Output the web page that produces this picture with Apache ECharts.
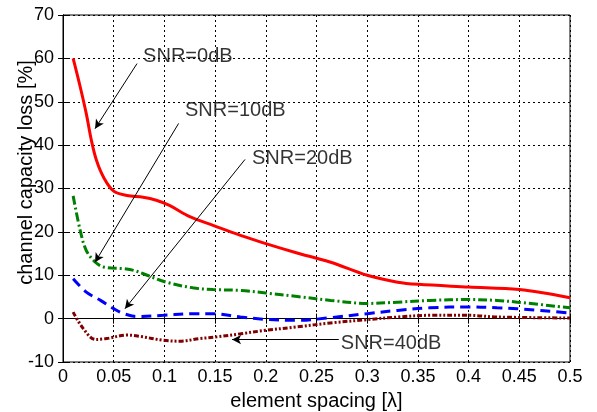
<!DOCTYPE html>
<html>
<head>
<meta charset="utf-8">
<script src="https://cdn.jsdelivr.net/npm/echarts@6/dist/echarts.min.js"></script>
<style>html,body{margin:0;padding:0;background:#fff}#c{width:597px;height:412px}</style>
</head>
<body>
<div id="c"></div>
<script>
// x positions (element spacing, λ) and loss values (%) per SNR curve
var snr0X  = [0.01,0.017,0.023,0.028,0.033,0.04,0.05,0.063,0.079,0.092,0.105,0.125,0.148,0.175,0.2,0.23,0.264,0.3,0.33,0.35,0.4,0.45,0.5];
var snr0Y  = [60,53.4,47.2,41.1,36.5,32.6,29.4,28.4,28.0,27.3,26.1,23.5,21.5,19.2,17.3,15.2,13,10,8.4,7.9,7.3,6.7,4.8];
var snr10X = [0.01,0.017,0.023,0.032,0.04,0.06,0.07,0.083,0.102,0.128,0.148,0.175,0.2,0.231,0.264,0.3,0.33,0.362,0.4,0.428,0.448,0.5];
var snr10Y = [28.3,20.3,15.7,13.0,11.9,11.5,11.1,10.0,8.4,7.1,6.7,6.5,5.9,5.1,4.2,3.5,3.8,4.2,4.4,4.2,3.8,2.5];
var snr20X = [0.01,0.023,0.037,0.05,0.06,0.073,0.099,0.128,0.148,0.175,0.2,0.231,0.264,0.3,0.33,0.362,0.4,0.428,0.448,0.5];
var snr20Y = [9.2,6.1,4.2,2.3,1.15,0.5,0.76,1.15,1.15,0.37,-0.16,-0.4,0.23,1.15,1.9,2.5,2.7,2.5,2.3,1.3];
var snr40X = [0.01,0.02,0.032,0.043,0.063,0.076,0.099,0.115,0.135,0.152,0.175,0.2,0.231,0.264,0.3,0.33,0.362,0.4,0.428,0.5];
var snr40Y = [1.5,-2.3,-4.8,-4.6,-3.8,-4.1,-5.0,-5.2,-4.6,-4.2,-3.5,-2.7,-1.9,-1.0,-0.23,0.37,0.76,0.76,0.37,0.15];

// annotation labels: text, anchor x, anchor y
var labelText = ['SNR=0dB','SNR=10dB','SNR=20dB','SNR=40dB'];
var labelX    = [0.079, 0.1203, 0.1864, 0.274];
var labelY    = [60.4, 48.0, 36.9, -5.7];
// arrows: start (x,y) -> end (x,y)
var arrowX0 = [0.073, 0.114, 0.1795, 0.272];
var arrowY0 = [58.8, 45.0, 36.7, -4.84];
var arrowX1 = [0.0316, 0.0316, 0.0611, 0.1667];
var arrowY1 = [43.8, 13.0, 2.3, -4.84];

function pairs(xs, ys){ return xs.map(function(x,i){ return [x, ys[i]]; }); }

var FONT = 'Liberation Sans, Arial, sans-serif';
var chart = echarts.init(document.getElementById('c'));

var arrowData = arrowX0.map(function(x,i){
  return [{coord:[x, arrowY0[i]]}, {coord:[arrowX1[i], arrowY1[i]]}];
});
var labelData = labelText.map(function(t,i){ return [labelX[i], labelY[i], t]; });

function lineSeries(data, color, dash){
  return {
    type:'line', data:data, smooth:0.35, symbol:'none', silent:true,
    lineStyle:{color:color, width:3, type:dash, cap:'butt'},
    z:3
  };
}

var axisCommon = {
  axisLine:{show:true, lineStyle:{color:'#000', width:1}},
  axisTick:{show:true, inside:true, length:5, lineStyle:{color:'#000'}},
  splitLine:{show:true, lineStyle:{color:'#000', width:1, type:[2,3]}}
};

chart.setOption({
  animation:false,
  backgroundColor:'#fff',
  grid:{left:63, right:27, top:15, bottom:50, show:true, borderColor:'#000', borderWidth:1,
        containLabel:false, outerBoundsMode:'none'},
  xAxis:[Object.assign({}, axisCommon, {
    type:'value', min:0, max:0.5, interval:0.05, position:'bottom',
    name:'element spacing [λ]', nameLocation:'middle', nameGap:29,
    nameTextStyle:{color:'#000', fontSize:20, fontFamily:FONT},
    axisLabel:{color:'#000', fontSize:18, fontFamily:FONT, margin:6}
  }), {
    type:'value', min:0, max:0.5, interval:0.05, position:'top',
    axisLine:{show:true, lineStyle:{color:'#000'}},
    axisTick:{show:true, inside:true, length:5, lineStyle:{color:'#000'}},
    axisLabel:{show:false}, splitLine:{show:false}
  }],
  yAxis:[Object.assign({}, axisCommon, {
    type:'value', min:-10, max:70, interval:10, position:'left',
    name:'channel capacity loss [%]', nameLocation:'middle', nameGap:27, nameMoveOverlap:false,
    nameTextStyle:{color:'#000', fontSize:20, fontFamily:FONT, padding:[0,0,0,32]},
    axisLabel:{color:'#000', fontSize:18, fontFamily:FONT, margin:9}
  }), {
    type:'value', min:-10, max:70, interval:10, position:'right',
    axisLine:{show:true, lineStyle:{color:'#000'}},
    axisTick:{show:true, inside:true, length:5, lineStyle:{color:'#000'}},
    axisLabel:{show:false}, splitLine:{show:false}
  }],
  series:[
    lineSeries(pairs(snr0X, snr0Y), '#ff0000', 'solid'),
    lineSeries(pairs(snr10X, snr10Y), '#008000', [9,3,2,3]),
    lineSeries(pairs(snr20X, snr20Y), '#0000ff', [10,6]),
    lineSeries(pairs(snr40X, snr40Y), '#800000', [5,2,2,2,2,2]),
    {
      type:'line', data:[], silent:true,
      markLine:{
        silent:true, symbol:['none','arrow'], symbolSize:[7,9],
        lineStyle:{color:'#000', width:1, type:'solid'},
        label:{show:false}, data:arrowData, animation:false
      },
      z:4
    },
    {
      type:'scatter', data:labelData, symbolSize:0, silent:true,
      label:{show:true, position:'right', distance:0, formatter:function(p){return p.data[2];},
        color:'#000', fontSize:20, fontFamily:FONT},
      z:5
    }
  ]
});
</script>
</body>
</html>
